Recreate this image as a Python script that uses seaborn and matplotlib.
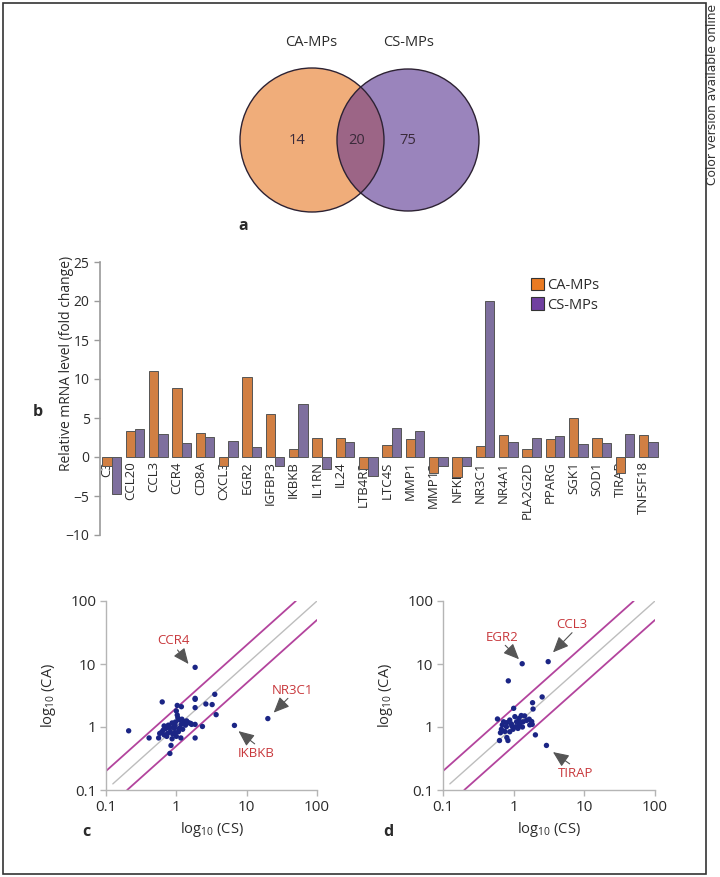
import numpy as np
import pandas as pd
import matplotlib
matplotlib.use('Agg')
import matplotlib.pyplot as plt
import seaborn as sns
from matplotlib.patches import Circle, Patch, Rectangle
from matplotlib.transforms import ScaledTranslation

W, H = 720, 877

# panel a: Venn counts (CA only, shared, CS only)
venn_labels = ['CA-MPs', 'CS-MPs']
venn_counts = [14, 20, 75]

# panel b: fold change per gene
genes = ['C3', 'CCL20', 'CCL3', 'CCR4', 'CD8A', 'CXCL3', 'EGR2', 'IGFBP3',
         'IKBKB', 'IL1RN', 'IL24', 'LTB4R2', 'LTC4S', 'MMP1', 'MMP13', 'NFKB1',
         'NR3C1', 'NR4A1', 'PLA2G2D', 'PPARG', 'SGK1', 'SOD1', 'TIRAP', 'TNFSF18']
ca_fold = [-1.1, 3.3, 11.0, 8.8, 3.1, -1.2, 10.3, 5.5, 1.0, 2.5, 2.5, -1.5,
           1.5, 2.3, -2.0, -2.6, 1.4, 2.8, 1.0, 2.3, 5.0, 2.4, -2.0, 2.8]
cs_fold = [-4.8, 3.6, 3.0, 1.8, 2.6, 2.0, 1.3, -1.2, 6.8, -1.6, 1.9, -2.4,
           3.7, 3.3, -1.2, -1.2, 20.0, 1.9, 2.4, 2.7, 1.7, 1.8, 3.0, 1.9]

# panel c: CS vs CA (log scale)
c_cs = [1.85, 20.0, 6.7, 0.21, 0.41, 0.63, 0.56, 0.84, 0.81, 1.16, 1.85, 1.85,
        1.85, 1.85, 2.63, 3.23, 3.52, 3.68, 2.35, 1.85, 1.6,
        1.0, 1.03, 1.18, 1.03, 1.1, 1.2, 1.28, 1.4, 1.35, 1.5,
        1.65, 1.17, 0.96, 0.91, 0.81, 0.71, 0.65, 0.62, 0.58, 0.67,
        0.75, 0.82, 0.89, 0.96, 1.07, 1.1, 1.23, 1.0, 0.73, 0.87,
        0.67, 0.77, 0.87, 0.97, 1.05, 0.94]
c_ca = [8.85, 1.36, 1.06, 0.87, 0.67, 2.5, 0.67, 0.51, 0.38, 0.67, 0.67, 2.75,
        2.85, 2.03, 2.32, 2.27, 3.3, 1.57, 1.02, 1.1, 1.14,
        1.8, 2.2, 2.1, 1.55, 1.3, 1.33, 1.22, 1.25, 1.07, 1.17,
        1.1, 1.1, 1.07, 1.0, 0.97, 0.95, 0.89, 0.83, 0.79, 0.75,
        0.79, 0.84, 0.77, 0.81, 0.84, 0.95, 0.92, 0.71, 0.71, 0.65,
        1.04, 1.07, 1.16, 1.2, 1.4, 0.95]
c_labels = ['CCR4', 'NR3C1', 'IKBKB']

# panel d
d_cs = [1.32, 3.08, 0.84, 2.91, 2.53, 1.85, 1.88, 1.0, 2.03, 0.59,
        0.63, 0.83, 0.65, 0.67, 0.75, 0.72, 0.8, 0.88, 0.93, 1.04,
        1.1, 1.19, 1.28, 1.43, 1.36, 1.2, 1.07, 0.98, 0.88, 0.79,
        0.69, 0.8, 1.25, 1.52, 1.66, 1.8, 1.69, 1.83, 1.33, 1.15, 0.94]
d_ca = [10.1, 10.9, 5.4, 0.51, 3.0, 2.43, 1.93, 1.98, 0.75, 1.34,
        0.61, 0.61, 0.81, 0.92, 0.85, 1.21, 1.17, 1.29, 1.12, 1.46,
        1.21, 1.37, 1.52, 1.5, 1.21, 1.08, 1.01, 0.92, 0.84, 1.01,
        1.08, 0.68, 1.17, 1.27, 1.33, 1.22, 1.08, 1.1, 1.0, 0.95, 1.04]
d_labels = ['EGR2', 'CCL3', 'TIRAP']

log_ticks = [0.1, 1, 10, 100]
log_ticklabels = ['0.1', '1', '10', '100']

sns.set_theme(style='white')
plt.rcParams['font.family'] = ['Open Sans', 'DejaVu Sans']
plt.rcParams['mathtext.default'] = 'regular'
plt.rcParams['text.color'] = '#2b2b2b'
plt.rcParams['axes.labelcolor'] = '#2b2b2b'
plt.rcParams['xtick.color'] = '#2b2b2b'
plt.rcParams['ytick.color'] = '#2b2b2b'

ORANGE = '#E97B2B'
PURPLE = '#7B67A6'
NAVY = '#1b2585'
MAGENTA = '#B3449D'
GREY_LINE = '#bdbdbd'
RED_TXT = '#C8383C'
AXIS_GREY = '#9a9a9a'


def px_rect(l, t, r, b):
    return [l / W, 1 - b / H, (r - l) / W, (b - t) / H]


fig = plt.figure(figsize=(W / 100, H / 100), dpi=100)

# ---- a: Venn diagram (axes data units == pixels)
ax = fig.add_axes(px_rect(200, 20, 520, 250))
ax.set_xlim(200, 520)
ax.set_ylim(250, 20)
ax.axis('off')
left = Circle((312, 140), 72, fc='#F0AD7A', ec='none')
right = Circle((408, 140), 71, fc='#9A84BC', ec='none')
ax.add_patch(left)
ax.add_patch(right)
shared = Circle((408, 140), 71, fc='#9C6586', ec='none')
ax.add_patch(shared)
shared.set_clip_path(left)
for c in [(312, 140, 72), (408, 140, 71)]:
    ax.add_patch(Circle(c[:2], c[2], fill=False, ec='#2d2233', lw=1.0))
ax.text(311, 43, venn_labels[0], ha='center', va='center', fontsize=10.5)
ax.text(409, 43, venn_labels[1], ha='center', va='center', fontsize=10.5)
for x, n in zip([297, 357, 408], venn_counts):
    ax.text(x, 141, str(n), ha='center', va='center', fontsize=10.5, color='#3a2a3a')
ax.text(243, 226, 'a', ha='center', va='center', fontsize=11.5, fontweight='bold')

# ---- b: bar chart
ax = fig.add_axes(px_rect(100, 262, 660, 535))
df = pd.DataFrame({
    'gene': genes * 2,
    'group': [venn_labels[0]] * len(genes) + [venn_labels[1]] * len(genes),
    'fold': ca_fold + cs_fold,
})
sns.barplot(data=df, x='gene', y='fold', hue='group', palette=[ORANGE, PURPLE],
            edgecolor='#555555', linewidth=0.7, ax=ax, legend=False, width=0.8)
ax.set_ylim(-10, 25)
ax.set_yticks(range(-10, 26, 5))
ax.set_xlim(-0.5, 23.5)
ax.spines['bottom'].set_position(('data', 0))
ax.spines['bottom'].set_color('none')
ax.spines['top'].set_visible(False)
ax.spines['right'].set_visible(False)
ax.spines['left'].set_color(AXIS_GREY)
ax.spines['left'].set_linewidth(1.2)
ax.tick_params(axis='x', length=0, rotation=90, labelsize=9.5, pad=3)
ax.tick_params(axis='y', left=True, direction='out', length=4, width=1,
               color=AXIS_GREY, labelsize=10)
# gene names sit under the first bar of each pair
shift = ScaledTranslation(-0.047, 0, fig.dpi_scale_trans)
for lab in ax.get_xticklabels():
    lab.set_transform(lab.get_transform() + shift)
ax.set_xlabel('')
ax.set_ylabel('Relative mRNA level (fold change)', fontsize=10)
ax.yaxis.set_label_coords(-0.046, 0.63)
handles = [Patch(fc='#E97A22', ec='#333333', lw=0.8),
           Patch(fc='#7040A0', ec='#333333', lw=0.8)]
ax.legend(handles, venn_labels, loc='upper left', bbox_to_anchor=(531 / W, 1 - 278 / H),
          bbox_transform=fig.transFigure, frameon=False, fontsize=10.5,
          handlelength=0.9, handleheight=0.9, handletextpad=0.2,
          labelspacing=0.3, borderpad=0, borderaxespad=0)
fig.text(38 / W, 1 - 412 / H, 'b', ha='center', va='center', fontsize=11.5, fontweight='bold')


# ---- c, d: log-log scatter
def draw_scatter(rect, cs, ca, labels, notes, letter, letter_xy):
    ax = fig.add_axes(px_rect(*rect))
    ax.set_xscale('log')
    ax.set_yscale('log')
    # fold-change guide lines: y = 2x, y = x, y = x/2
    for ratio, x0, x1, col, lw in [(2, 0.1, 50, MAGENTA, 1.3),
                                  (1, 0.125, 100, GREY_LINE, 1.0),
                                  (0.5, 0.2, 100, MAGENTA, 1.3)]:
        xs = np.array([x0, x1])
        ax.plot(xs, xs * ratio, color=col, lw=lw, zorder=1)
    sns.scatterplot(x=cs, y=ca, ax=ax, color=NAVY, s=15, edgecolor='none', zorder=3)
    for lab, (txt, tail, head) in zip(labels, notes):
        ax.annotate('', xy=head, xytext=tail,
                    arrowprops=dict(arrowstyle='-|>,head_length=0.8,head_width=0.35',
                                    color='#555555', lw=0.8, shrinkA=0, shrinkB=0))
        ax.text(txt[0], txt[1], lab, ha='center', va='center', fontsize=9.5, color=RED_TXT)
    ax.set_xlim(0.1, 100)
    ax.set_ylim(0.1, 100)
    ax.set_xticks(log_ticks)
    ax.set_xticklabels(log_ticklabels)
    ax.set_yticks(log_ticks)
    ax.set_yticklabels(log_ticklabels)
    ax.minorticks_off()
    for s in ['top', 'right']:
        ax.spines[s].set_visible(False)
    for s in ['left', 'bottom']:
        ax.spines[s].set_color('#b5b5b5')
        ax.spines[s].set_linewidth(1.0)
    ax.tick_params(left=True, bottom=True, direction='out', length=4, width=1,
                   color='#b5b5b5', labelsize=11, pad=3)
    ax.set_xlabel('log$_{10}$ (CS)', fontsize=10.5, labelpad=4)
    ax.set_ylabel('log$_{10}$ (CA)', fontsize=10.5)
    ax.yaxis.set_label_coords(-48 / (rect[2] - rect[0]), 0.5)
    fig.text(letter_xy[0] / W, 1 - letter_xy[1] / H, letter, ha='center', va='center',
             fontsize=11.5, fontweight='bold')


c_notes = [((0.91, 24), (1.04, 16.7), (1.49, 10.0)),
           ((45, 3.86), (38.6, 2.85), (24.2, 1.69)),
           ((13.7, 0.38), (13.0, 0.54), (7.65, 0.86))]
d_notes = [((0.69, 26.5), (0.76, 19.8), (1.19, 11.9)),
           ((6.6, 41.6), (6.7, 31.4), (3.6, 15.3)),
           ((7.6, 0.18), (6.2, 0.26), (3.6, 0.40))]

draw_scatter((106, 601, 317, 790), c_cs, c_ca, c_labels, c_notes, 'c', (86, 832))
draw_scatter((443, 601, 655, 790), d_cs, d_ca, d_labels, d_notes, 'd', (388, 832))

# frame and side note
fig.add_artist(Rectangle((3 / W, 3 / H), 703 / W, 871 / H, transform=fig.transFigure,
                         fill=False, ec='#333333', lw=1.2))
fig.text(712 / W, 1 - 4 / H, 'Color version available online', rotation=90,
         ha='center', va='top', fontsize=8.8, color='#333333',
         family=['Liberation Sans Narrow', 'DejaVu Sans'])

fig.savefig('out.png', dpi=100)
